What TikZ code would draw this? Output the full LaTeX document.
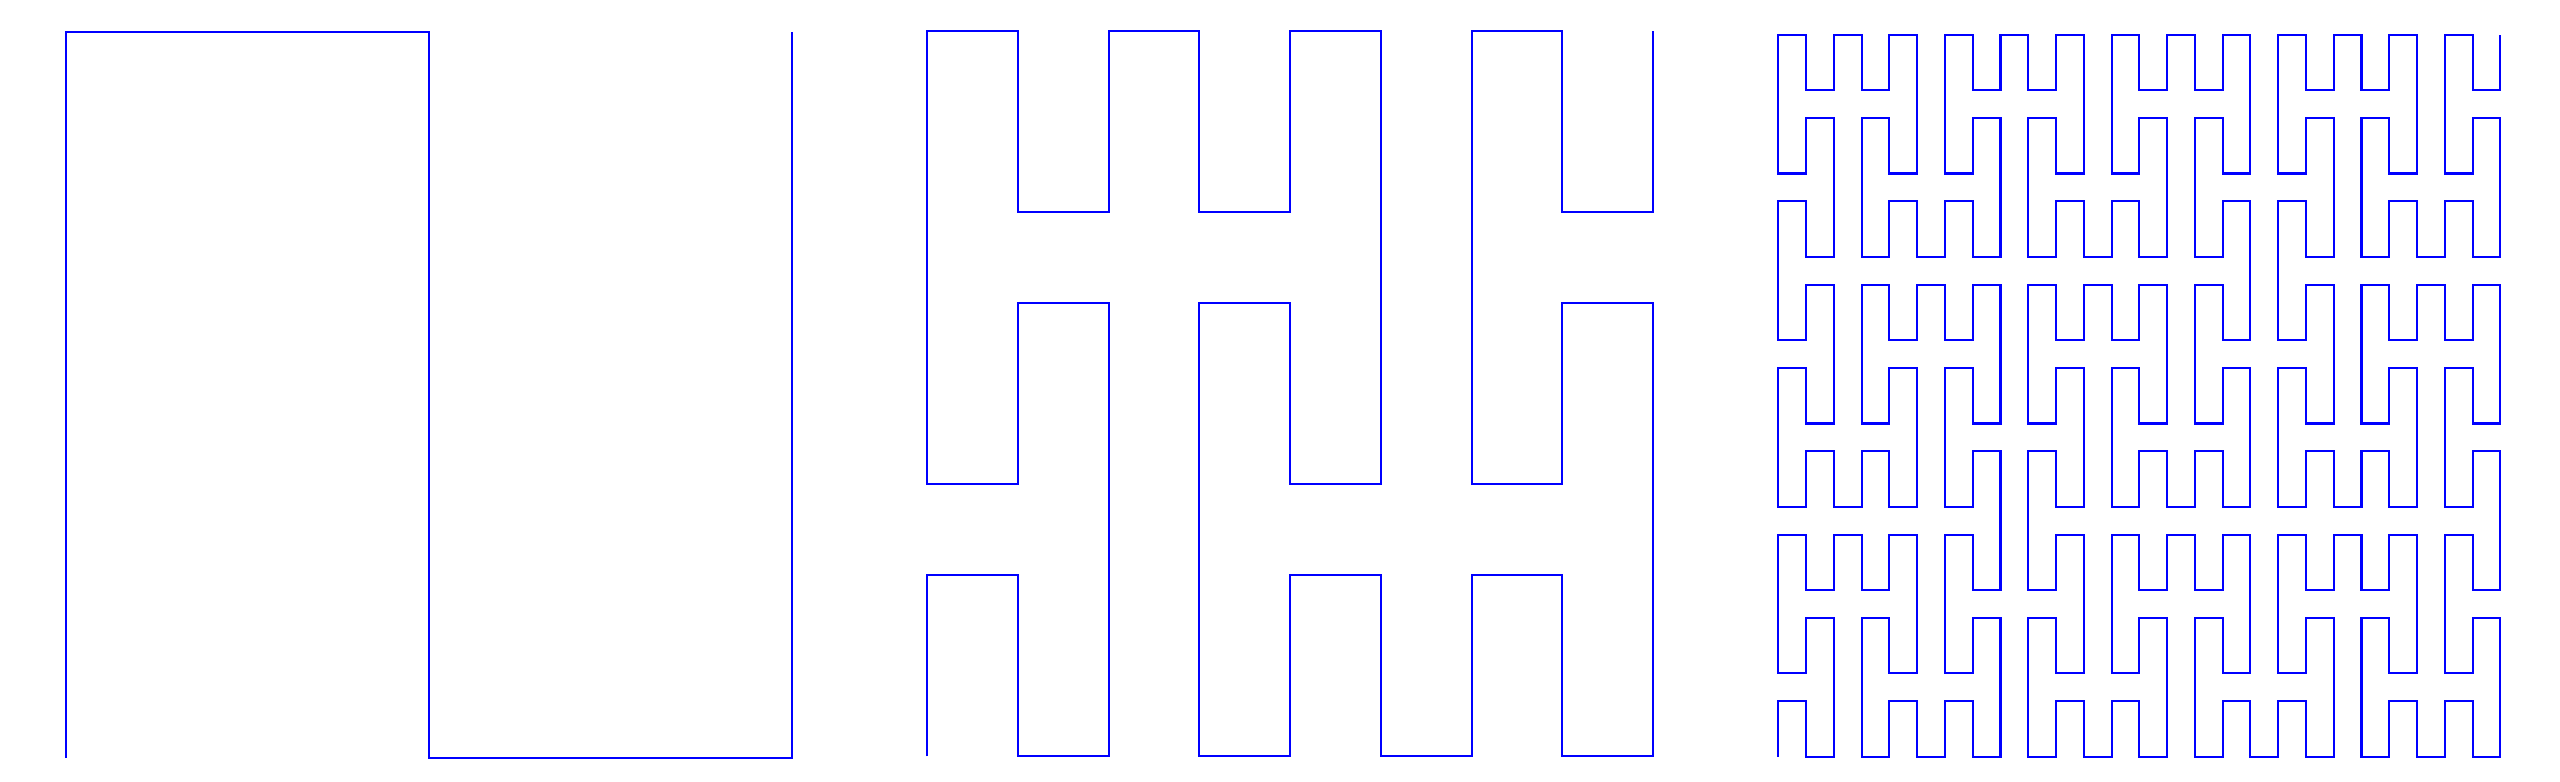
\documentclass[tikz,border=0pt]{standalone}
\usetikzlibrary{lindenmayersystems}

\pgfdeclarelindenmayersystem{Peano curve}{
  \rule{X -> XFYFX-F-YFXFY+F+XFYFX}
  \rule{Y -> YFXFY+F+XFYFX-F-YFXFY}
}

\tikzset{peano line/.style={blue, line width=0.6pt}}

\begin{document}
\begin{tikzpicture}
    \useasboundingbox (0,0) rectangle (25.6,7.81);
    % orders 1, 2 and 3, each one a square of side 7.26
    \begin{scope}[shift={(0.663,0.23)}]
        \draw[peano line, lindenmayer system={Peano curve, axiom=+X, order=1, step=3.63cm, angle=90}]
            lindenmayer system;
    \end{scope}
    \begin{scope}[shift={(9.273,0.247)}]
        \draw[peano line, lindenmayer system={Peano curve, axiom=+X, order=2, step=0.9071cm, angle=90}]
            lindenmayer system;
    \end{scope}
    \begin{scope}[shift={(17.783,0.243)}]
        \draw[peano line, lindenmayer system={Peano curve, axiom=+X, order=3, step=0.27769cm, angle=90}]
            lindenmayer system;
    \end{scope}
\end{tikzpicture}
\end{document}
